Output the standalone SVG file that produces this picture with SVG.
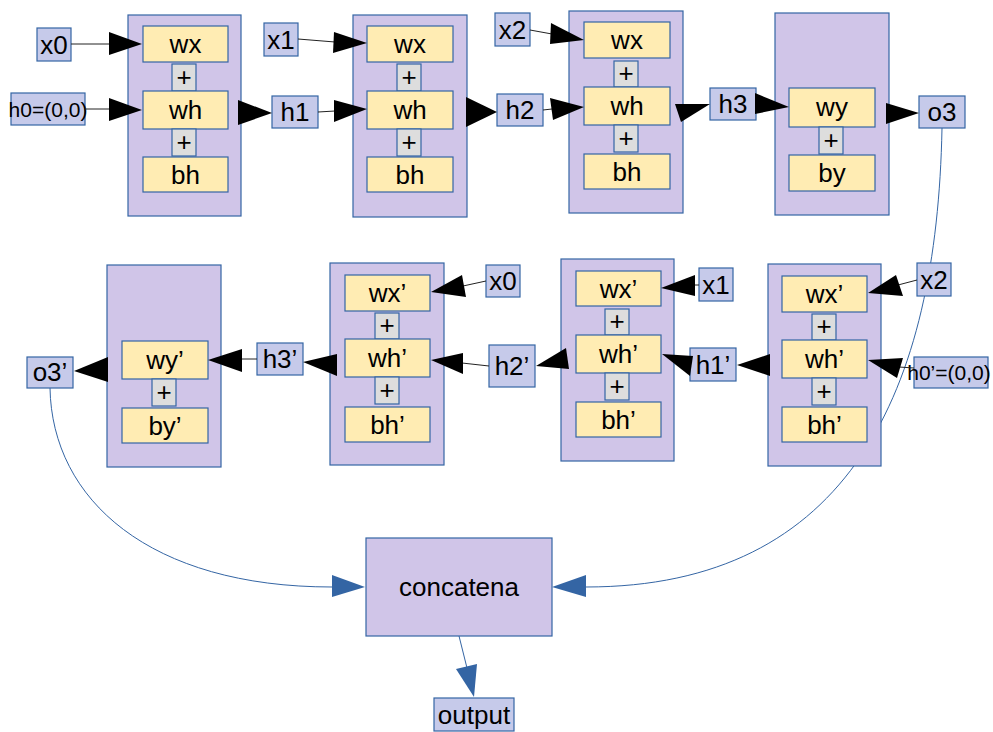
<svg xmlns="http://www.w3.org/2000/svg" width="993" height="732" viewBox="0 0 993 732">
  <style>
    text { font-family: "Liberation Sans", Arial, sans-serif; fill: #000; text-anchor: middle; }
    .t { font-size: 26px; }
    .s { font-size: 21px; }
    .p { font-size: 26px; }
    .big { font-size: 26px; }
    .cell { fill: #d0c5e8; stroke: #3465a4; stroke-width: 1.2; }
    .lbl { fill: #c6caea; stroke: #3465a4; stroke-width: 1.2; }
    .w { fill: #ffecb3; stroke: #3465a4; stroke-width: 1.2; }
    .plus { fill: #dddddd; stroke: #3465a4; stroke-width: 1.2; }
    .ln { fill: none; stroke: #222; stroke-width: 1; }
    .hd { fill: #000; stroke: none; }
    .curve { fill: none; stroke: #3465a4; stroke-width: 1; }
    .bhd { fill: #3465a4; stroke: none; }
  </style>

  <!-- output curves run underneath the cells -->
  <g id="links">
    <path class="curve" d="M942,128 C937,390 850,587 586,587"/>
    <path class="curve" d="M50,388 C52,500 150,587 332,587"/>
  </g>

  <!-- forward RNN, top row -->
  <g id="cell-f1">
    <rect class="cell" x="128" y="15" width="113" height="201"/>
    <rect class="w" x="143" y="26" width="85" height="36"/><text class="t" x="185.5" y="53">wx</text>
    <rect class="plus" x="172" y="64" width="24" height="27"/><text class="p" x="184" y="86">+</text>
    <rect class="w" x="143" y="91" width="85" height="38"/><text class="t" x="185.5" y="119">wh</text>
    <rect class="plus" x="172" y="129" width="24" height="27"/><text class="p" x="184" y="151">+</text>
    <rect class="w" x="143" y="157" width="85" height="35"/><text class="t" x="185.5" y="184">bh</text>
  </g>
  <g id="cell-f2">
    <rect class="cell" x="353" y="15" width="114" height="202"/>
    <rect class="w" x="367" y="26" width="86" height="36"/><text class="t" x="410" y="53">wx</text>
    <rect class="plus" x="397" y="64" width="24" height="27"/><text class="p" x="409" y="86">+</text>
    <rect class="w" x="367" y="91" width="86" height="38"/><text class="t" x="410" y="119">wh</text>
    <rect class="plus" x="397" y="129" width="24" height="27"/><text class="p" x="409" y="151">+</text>
    <rect class="w" x="367" y="157" width="86" height="35"/><text class="t" x="410" y="184">bh</text>
  </g>
  <g id="cell-f3">
    <rect class="cell" x="569" y="11" width="114" height="202"/>
    <rect class="w" x="584" y="22" width="86" height="36"/><text class="t" x="627" y="49">wx</text>
    <rect class="plus" x="614" y="61" width="24" height="26"/><text class="p" x="626" y="82">+</text>
    <rect class="w" x="584" y="87" width="86" height="38"/><text class="t" x="627" y="115">wh</text>
    <rect class="plus" x="614" y="125" width="24" height="27"/><text class="p" x="626" y="147">+</text>
    <rect class="w" x="584" y="154" width="86" height="35"/><text class="t" x="627" y="181">bh</text>
  </g>
  <g id="cell-f4">
    <rect class="cell" x="775" y="13" width="114" height="202"/>
    <rect class="w" x="789" y="88" width="86" height="39"/><text class="t" x="832" y="116">wy</text>
    <rect class="plus" x="819" y="127" width="24" height="27"/><text class="p" x="831" y="149">+</text>
    <rect class="w" x="789" y="155" width="86" height="36"/><text class="t" x="832" y="182">by</text>
  </g>

  <!-- backward RNN, bottom row -->
  <g id="cell-b4">
    <rect class="cell" x="107" y="265" width="114" height="202"/>
    <rect class="w" x="122" y="341" width="86" height="38"/><text class="t" x="165" y="369">wy’</text>
    <rect class="plus" x="152" y="379" width="24" height="27"/><text class="p" x="164" y="401">+</text>
    <rect class="w" x="122" y="408" width="86" height="35"/><text class="t" x="165" y="435">by’</text>
  </g>
  <g id="cell-b3">
    <rect class="cell" x="330" y="263" width="114" height="202"/>
    <rect class="w" x="345" y="275" width="85" height="36"/><text class="t" x="387.5" y="302">wx’</text>
    <rect class="plus" x="375" y="313" width="24" height="26"/><text class="p" x="387" y="334">+</text>
    <rect class="w" x="345" y="339" width="85" height="38"/><text class="t" x="387.5" y="367">wh’</text>
    <rect class="plus" x="375" y="377" width="24" height="27"/><text class="p" x="387" y="399">+</text>
    <rect class="w" x="345" y="407" width="85" height="35"/><text class="t" x="387.5" y="434">bh’</text>
  </g>
  <g id="cell-b2">
    <rect class="cell" x="561" y="259" width="113" height="202"/>
    <rect class="w" x="576" y="271" width="85" height="35"/><text class="t" x="618.5" y="298">wx’</text>
    <rect class="plus" x="605" y="309" width="24" height="26"/><text class="p" x="617" y="330">+</text>
    <rect class="w" x="576" y="335" width="85" height="38"/><text class="t" x="618.5" y="363">wh’</text>
    <rect class="plus" x="605" y="373" width="24" height="27"/><text class="p" x="617" y="395">+</text>
    <rect class="w" x="576" y="402" width="85" height="35"/><text class="t" x="618.5" y="429">bh’</text>
  </g>
  <g id="cell-b1">
    <rect class="cell" x="768" y="264" width="113" height="202"/>
    <rect class="w" x="782" y="276" width="85" height="36"/><text class="t" x="824.5" y="303">wx’</text>
    <rect class="plus" x="812" y="314" width="24" height="26"/><text class="p" x="824" y="335">+</text>
    <rect class="w" x="782" y="340" width="85" height="38"/><text class="t" x="824.5" y="368">wh’</text>
    <rect class="plus" x="812" y="378" width="24" height="27"/><text class="p" x="824" y="400">+</text>
    <rect class="w" x="782" y="407" width="85" height="35"/><text class="t" x="824.5" y="434">bh’</text>
  </g>

  <!-- inputs, states and outputs -->
  <g id="x0"><rect class="lbl" x="37" y="28" width="34" height="33"/><text class="t" x="54" y="54">x0</text></g>
  <g id="h0"><rect class="lbl" x="11" y="93" width="74" height="32"/><text class="s" x="48" y="117">h0=(0,0)</text></g>
  <g id="x1"><rect class="lbl" x="264" y="23" width="34" height="33"/><text class="t" x="281" y="49">x1</text></g>
  <g id="h1"><rect class="lbl" x="272" y="96" width="46" height="32"/><text class="t" x="295" y="121">h1</text></g>
  <g id="x2"><rect class="lbl" x="495" y="13" width="35" height="33"/><text class="t" x="512.5" y="39">x2</text></g>
  <g id="h2"><rect class="lbl" x="497" y="94" width="46" height="32"/><text class="t" x="520" y="119">h2</text></g>
  <g id="h3"><rect class="lbl" x="710" y="88" width="46" height="32"/><text class="t" x="733" y="113">h3</text></g>
  <g id="o3"><rect class="lbl" x="919" y="96" width="46" height="32"/><text class="t" x="942" y="121">o3</text></g>
  <g id="o3b"><rect class="lbl" x="27" y="357" width="46" height="31"/><text class="t" x="50" y="381">o3’</text></g>
  <g id="h3b"><rect class="lbl" x="257" y="343" width="46" height="32"/><text class="t" x="280" y="368">h3’</text></g>
  <g id="x0b"><rect class="lbl" x="486" y="265" width="34" height="32"/><text class="t" x="503" y="290">x0</text></g>
  <g id="h2b"><rect class="lbl" x="489" y="345" width="46" height="42"/><text class="t" x="512" y="375">h2’</text></g>
  <g id="x1b"><rect class="lbl" x="699" y="268" width="34" height="33"/><text class="t" x="716" y="294">x1</text></g>
  <g id="h1b"><rect class="lbl" x="690" y="348" width="46" height="33"/><text class="t" x="713" y="374">h1’</text></g>
  <g id="x2b"><rect class="lbl" x="917" y="263" width="34" height="33"/><text class="t" x="934" y="289">x2</text></g>
  <g id="h0b"><rect class="lbl" x="914" y="357" width="74" height="31"/><text class="s" x="949" y="380">h0’=(0,0)</text></g>
  <g id="concatena"><rect class="cell" x="366" y="538" width="186" height="98"/><text class="big" x="459" y="596">concatena</text></g>
  <g id="output"><rect class="lbl" x="434" y="698" width="80" height="33"/><text class="big" x="474" y="724">output</text></g>

  <!-- arrows between nodes -->
  <g id="arrows">
    <line class="ln" x1="71" y1="44" x2="110" y2="44"/><polygon class="hd" points="109,32 109,55 142,44"/>
    <line class="ln" x1="85" y1="109" x2="110" y2="109"/><polygon class="hd" points="109,98 109,121 142,110"/>
    <polygon class="hd" points="238,100 238,125 272,113"/>
    <line class="ln" x1="298" y1="39" x2="335" y2="42"/><polygon class="hd" points="334,32 333,53 367,43"/>
    <line class="ln" x1="318" y1="112" x2="335" y2="111"/><polygon class="hd" points="334,100 334,122 367,109"/>
    <polygon class="hd" points="466,97 466,127 497,112"/>
    <line class="ln" x1="530" y1="30" x2="552" y2="34"/><polygon class="hd" points="551,23 550,44 584,40"/>
    <line class="ln" x1="543" y1="110" x2="552" y2="109"/><polygon class="hd" points="550,98 553,120 584,107"/>
    <polygon class="hd" points="675,104 710,104 681,122"/>
    <polygon class="hd" points="755,93 755,114 789,107"/>
    <polygon class="hd" points="886,103 886,124 919,113"/>

    <line class="ln" x1="917" y1="280" x2="898" y2="285"/><polygon class="hd" points="896,275 903,296 868,293"/>
    <line class="ln" x1="914" y1="368" x2="899" y2="367"/><polygon class="hd" points="903,358 897,378 868,360"/>
    <polygon class="hd" points="770,354 770,376 737,365"/>
    <polygon class="hd" points="662,354 693,356 690,376"/>
    <line class="ln" x1="699" y1="285" x2="694" y2="285"/><polygon class="hd" points="695,275 695,296 661,288"/>
    <polygon class="hd" points="536,366 566,348 569,369"/>
    <line class="ln" x1="489" y1="366" x2="462" y2="363"/><polygon class="hd" points="463,353 463,374 431,360"/>
    <line class="ln" x1="486" y1="281" x2="463" y2="286"/><polygon class="hd" points="462,275 466,297 431,292"/>
    <polygon class="hd" points="337,354 337,376 303,362"/>
    <line class="ln" x1="257" y1="359" x2="241" y2="359"/><polygon class="hd" points="242,349 242,372 208,360"/>
    <polygon class="hd" points="108,357 108,382 74,371"/>

    <polygon class="bhd" points="332,575 332,597 365,587"/>
    <polygon class="bhd" points="586,575 586,597 552,587"/>
    <line class="curve" x1="459" y1="636" x2="467" y2="668"/>
    <polygon class="bhd" points="456,669 477,664 474,697"/>
  </g>
</svg>
